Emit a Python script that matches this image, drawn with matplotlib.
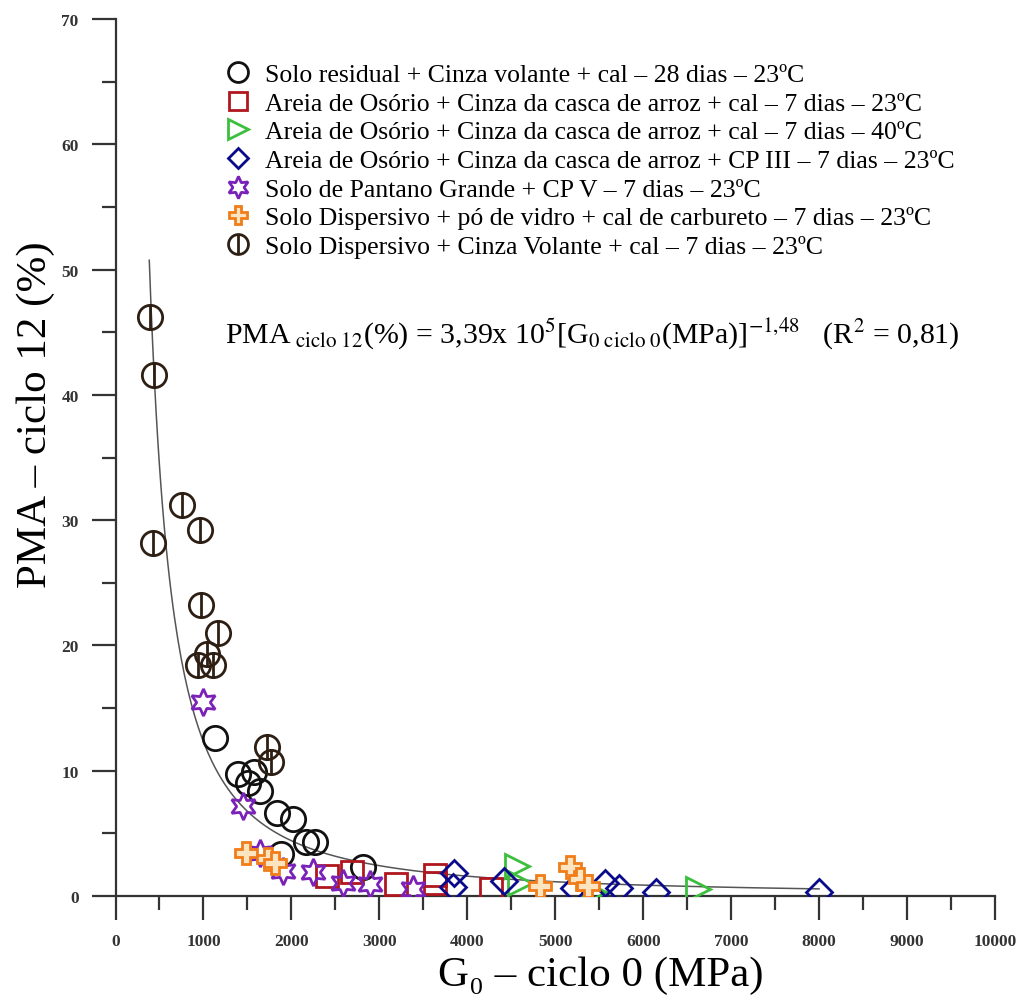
import numpy as np
import matplotlib.pyplot as plt
from matplotlib.path import Path

plt.rcParams['font.family'] = ['Liberation Serif', 'DejaVu Serif']
plt.rcParams['mathtext.fontset'] = 'stix'

# Solo residual + Cinza volante + cal - 28 dias - 23C
res_x = [1131, 1395, 1574, 1502, 1642, 1832, 2020, 2165, 2267, 1881, 2809]
res_y = [12.6, 9.74, 9.88, 9.0, 8.41, 6.6, 6.15, 4.28, 4.28, 3.35, 2.29]
# Areia de Osorio + CCA + cal - 7 dias - 23C
cca23_x = [2400, 2690, 3190, 3630, 3630, 4270]
cca23_y = [1.6, 1.9, 0.95, 1.7, 1.0, 0.55]
# Areia de Osorio + CCA + cal - 7 dias - 40C
cca40_x = [4560, 4600, 5440, 6620]
cca40_y = [2.4, 1.0, 0.3, 0.55]
# Areia de Osorio + CCA + CP III - 7 dias - 23C
cp3_x = [3850, 3840, 4420, 5210, 5570, 5730, 6140, 8000]
cp3_y = [1.85, 0.75, 1.2, 0.6, 1.0, 0.6, 0.35, 0.3]
# Solo de Pantano Grande + CP V
pg_x = [998, 1445, 1642, 1907, 2248, 2589, 2892, 3384]
pg_y = [15.5, 7.2, 3.4, 2.0, 1.9, 1.0, 0.95, 0.55]
# Solo Dispersivo + po de vidro + cal de carbureto
vid_x = [1480, 1735, 1810, 4824, 5165, 5280, 5373]
vid_y = [3.4, 2.95, 2.6, 0.82, 2.35, 1.36, 0.82]
# Solo Dispersivo + Cinza Volante + cal
disp_x = [392, 441, 752, 960, 430, 968, 1168, 1036, 941, 1111, 1720, 1765]
disp_y = [46.2, 41.6, 31.2, 29.2, 28.2, 23.2, 21.0, 19.3, 18.45, 18.45, 11.9, 10.7]

labels = [
    'Solo residual + Cinza volante + cal – 28 dias – 23ºC',
    'Areia de Osório + Cinza da casca de arroz + cal – 7 dias – 23ºC',
    'Areia de Osório + Cinza da casca de arroz + cal – 7 dias – 40ºC',
    'Areia de Osório + Cinza da casca de arroz + CP III – 7 dias – 23ºC',
    'Solo de Pantano Grande + CP V – 7 dias – 23ºC',
    'Solo Dispersivo + pó de vidro + cal de carbureto – 7 dias – 23ºC',
    'Solo Dispersivo + Cinza Volante + cal – 7 dias – 23ºC',
]

# fitted curve PMA = 3.39e5 * G0^-1.48
fit_a, fit_b = 3.39e5, -1.48
fit_x = np.linspace(384, 8000, 400)
fit_y = fit_a * fit_x ** fit_b

circle_bar = Path.make_compound_path(
    Path.unit_circle(),
    Path([[0, -1], [0, 1]], [Path.MOVETO, Path.LINETO]))

fig = plt.figure(figsize=(10.23, 10.03), dpi=100)
ax = fig.add_axes([115.5 / 1023, 1 - 897 / 1003, (995 - 115.5) / 1023, (897 - 20) / 1003])

ax.plot(fit_x, fit_y, color='#555555', lw=1.1, zorder=1)

ms = 17.5
mew = 2.0
series = [
    (res_x, res_y, 'o', '#111111', 'none', ms),
    (cca23_x, cca23_y, 's', '#b0161e', 'none', ms - 2),
    (cca40_x, cca40_y, '>', '#3cbf3c', 'none', ms),
    (cp3_x, cp3_y, 'D', '#0a0a8c', 'none', ms - 4.5),
    (pg_x, pg_y, (6, 1, 0), '#7a22b8', 'none', ms + 2),
    (vid_x, vid_y, 'P', '#f07d1a', '#fde4c0', ms - 1),
    (disp_x, disp_y, circle_bar, '#2e1f14', 'none', ms),
]
for (x, y, m, c, fc, s), lab in zip(series, labels):
    ax.plot(x, y, ls='none', marker=m, markersize=s, markeredgecolor=c,
            markerfacecolor=fc, markeredgewidth=mew, label=lab, zorder=3)

ax.set_xlim(0, 10000)
ax.set_ylim(0, 70)
ax.set_xticks(np.arange(0, 10001, 1000))
ax.set_xticks(np.arange(500, 10000, 1000), minor=True)
ax.set_yticks(np.arange(0, 71, 10))
ax.set_yticks(np.arange(5, 70, 10), minor=True)
for s in ['top', 'right']:
    ax.spines[s].set_visible(False)
for s in ['left', 'bottom']:
    ax.spines[s].set_linewidth(1.6)
    ax.spines[s].set_color('#333333')
ax.tick_params(which='major', length=17.5, width=1.6, color='#333333',
               labelsize=12.5, labelcolor='#333333', pad=9)
ax.tick_params(which='minor', length=10, width=1.6, color='#333333')
for lab in ax.get_xticklabels() + ax.get_yticklabels():
    lab.set_fontweight('bold')

leg = ax.legend(loc='upper left', bbox_to_anchor=(226 / 1023, 1 - 64 / 1003),
                bbox_transform=fig.transFigure, frameon=False, fontsize=18.5,
                markerscale=0.82, handlelength=0.9, handletextpad=0.6,
                labelspacing=0.22, borderpad=0, borderaxespad=0)

fig.text(225 / 1023, 1 - 334 / 1003,
         r'PMA$_{\ \mathrm{ciclo\ 12}}$(%) = 3,39x 10$^{5}$[G$_{0\ \mathrm{ciclo\ 0}}$(MPa)]$^{-1{,}48}$   (R$^{2}$ = 0,81)',
         fontsize=21.5, ha='left', va='center')

fig.text(601 / 1023, 1 - 976 / 1003, 'G\u2080 – ciclo 0 (MPa)', fontsize=31,
         ha='center', va='center')
fig.text(36 / 1023, 1 - 415 / 1003, 'PMA – ciclo 12 (%)', fontsize=31,
         rotation=90, ha='center', va='center')

fig.savefig('out.png', dpi=100)
